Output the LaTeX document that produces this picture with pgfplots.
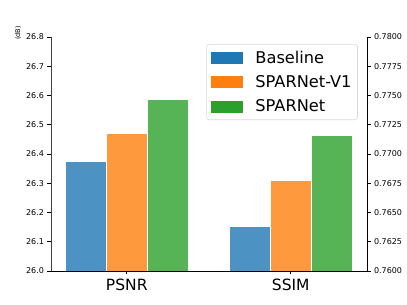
\documentclass[border=0pt]{standalone}
\usepackage{fontspec}
\setmainfont{DejaVu Sans}
\usepackage{pgfplots}
\pgfplotsset{compat=1.18}
\definecolor{cB}{HTML}{1F77B4}
\definecolor{cO}{HTML}{FF7F0E}
\definecolor{cG}{HTML}{2CA02C}
\definecolor{fB}{HTML}{4C92C3}
\definecolor{fO}{HTML}{FF993E}
\definecolor{fG}{HTML}{56B356}
\begin{document}
\begin{tikzpicture}[x=1pt,y=1pt]
\pgfplotsset{
  base/.style={
    at={(0,0)}, anchor=south west,
    scale only axis, width=316pt, height=234pt,
    xmin=-0.462, xmax=1.465,
    ybar, bar shift=0pt, bar width=0.247,
    tick align=outside, major tick length=3.5pt,
    tick style={black, line width=0.6pt},
    /pgf/number format/assume math mode=true,
    ticklabel style={font=\fontsize{8}{9}\selectfont},
    every axis plot/.append style={draw=white, line width=0.5pt},
  }
}
\begin{axis}[base,
  ymin=26.0, ymax=26.8,
  ytick={26.0,26.1,...,26.8},
  yticklabel style={/pgf/number format/.cd,fixed,fixed zerofill,precision=1},
  axis y line*=left, axis x line*=bottom,
  xtick={0,1}, xticklabels={PSNR,SSIM},
  xticklabel style={font=\fontsize{15.5}{16}\selectfont, yshift=-1pt},
  axis line style={line width=0.6pt},
  y axis line style={black!75, line width=0.9pt},
]
\addplot[fill=fB] coordinates {(-0.2497,26.376)};
\addplot[fill=fO] coordinates {(0,26.472)};
\addplot[fill=fG] coordinates {(0.2497,26.586)};
\end{axis}
\begin{axis}[base,
  ymin=0.76, ymax=0.78,
  ytick={0.76,0.7625,...,0.7801},
  yticklabel style={/pgf/number format/.cd,fixed,fixed zerofill,precision=4},
  axis y line*=right, axis x line=none,
  axis line style={line width=0.6pt},
  xtick=\empty,
  legend style={at={(0.971,0.970)}, anchor=north east,
    font=\fontsize{16.2}{16.5}\selectfont,
    draw=black!15, rounded corners=2.5pt, line width=0.6pt,
    inner xsep=4pt, inner ysep=4.5pt,
    row sep=6.8pt},
  legend cell align=left,
]
\addplot[fill=fB, forget plot] coordinates {(0.7503,0.76382)};
\addplot[fill=fO, forget plot] coordinates {(1,0.76775)};
\addplot[fill=fG, forget plot] coordinates {(1.2497,0.77157)};
\addlegendimage{area legend, legend image code/.code={\fill[cB, sharp corners] (0pt,-5.5pt) rectangle (31pt,5.5pt);}}
\addlegendentry{\hspace{11.3pt}Baseline}
\addlegendimage{area legend, legend image code/.code={\fill[cO, sharp corners] (0pt,-5.5pt) rectangle (31pt,5.5pt);}}
\addlegendentry{\hspace{11.3pt}SPARNet-V1}
\addlegendimage{area legend, legend image code/.code={\fill[cG, sharp corners] (0pt,-5.5pt) rectangle (31pt,5.5pt);}}
\addlegendentry{\hspace{11.3pt}SPARNet}
\end{axis}
\node[rotate=90, font=\fontsize{6.5}{7}\selectfont] at (-33pt,238pt) {(dB)};
\pgfresetboundingbox
\path (-51pt,-34pt) rectangle (356pt,271pt);
\end{tikzpicture}
\end{document}
